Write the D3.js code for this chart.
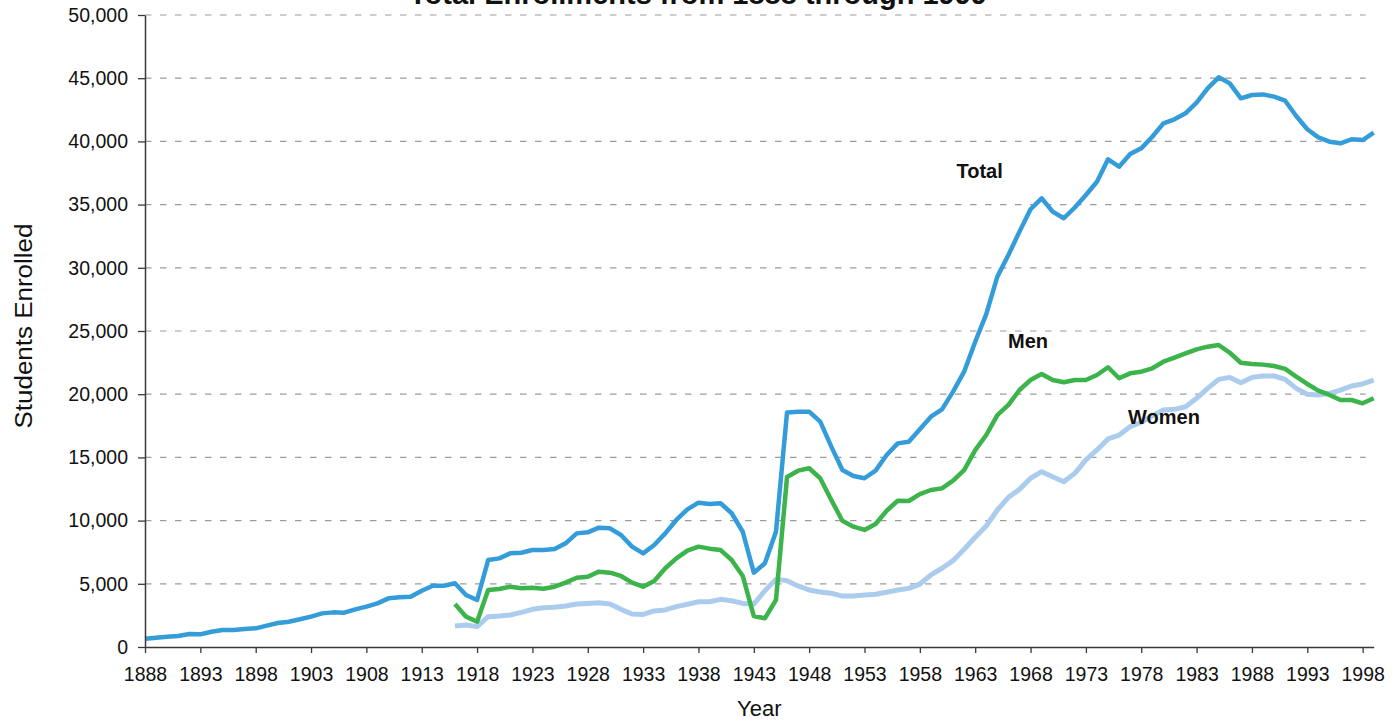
<!DOCTYPE html>
<html>
<head>
  <meta charset="utf-8" />
  <title>Total Enrollments from 1888 through 1999</title>
  <script src="https://cdn.jsdelivr.net/npm/d3@7"></script>
  <style>
    body { margin: 0; background: #fff; }
    svg text { font-family: "Liberation Sans", Arial, Helvetica, sans-serif; fill: #111; }
  </style>
</head>
<body>
  <svg id="chart" width="1400" height="723"></svg>

  <script>
    // years shown on the x axis and the y axis ticks
    const xTickYears = [1888, 1893, 1898, 1903, 1908, 1913, 1918, 1923, 1928, 1933, 1938,
      1943, 1948, 1953, 1958, 1963, 1968, 1973, 1978, 1983, 1988, 1993, 1998];
    const yTickValues = [0, 5000, 10000, 15000, 20000, 25000, 30000, 35000, 40000, 45000, 50000];

    // total enrollment, one value per year 1888..1999
    const totalStart = 1888;
    const totalValues = [
      660, 740, 815, 870, 1030, 1000, 1210, 1345, 1345, 1420,          // 1888-1897
      1475, 1690, 1900, 2000, 2190, 2400, 2660, 2740, 2715, 2980,      // 1898-1907
      3190, 3450, 3850, 3930, 3980, 4450, 4850, 4850, 5040, 4110,      // 1908-1917
      3720, 6880, 7010, 7410, 7460, 7670, 7670, 7750, 8200, 8990,      // 1918-1927
      9070, 9440, 9390, 8860, 7940, 7410, 8070, 8990, 10050, 10890,    // 1928-1937
      11420, 11310, 11370, 10580, 9120, 5880, 6620, 9120, 18550, 18620, // 1938-1947
      18620, 17830, 15850, 14000, 13530, 13350, 13950, 15190, 16110, 16240, // 1948-1957
      17220, 18220, 18800, 20200, 21780, 24150, 26340, 29300, 31010, 32860, // 1958-1967
      34630, 35500, 34440, 33920, 34770, 35760, 36810, 38580, 38000, 39000, // 1968-1977
      39450, 40370, 41430, 41750, 42220, 43060, 44200, 45070, 44590, 43410, // 1978-1987
      43670, 43720, 43540, 43220, 42010, 40960, 40320, 39980, 39850, 40170, // 1988-1997
      40110, 40690                                                      // 1998-1999
    ];

    // men and women, one value per year 1916..1999
    const genderStart = 1916;
    const menValues = [
      3400, 2400, 2000, 4510, 4590, 4770, 4640, 4690, 4610, 4770,      // 1916-1925
      5090, 5480, 5560, 5960, 5880, 5620, 5090, 4770, 5220, 6230,      // 1926-1935
      7010, 7620, 7940, 7780, 7670, 6880, 5620, 2450, 2270, 3720,      // 1936-1945
      13450, 13950, 14140, 13350, 11630, 9990, 9520, 9260, 9730, 10780, // 1946-1955
      11570, 11550, 12100, 12420, 12550, 13160, 14000, 15580, 16770, 18350, // 1956-1965
      19150, 20330, 21120, 21600, 21120, 20940, 21120, 21120, 21520, 22130, // 1966-1975
      21260, 21650, 21780, 22050, 22570, 22890, 23230, 23550, 23760, 23890, // 1976-1985
      23280, 22490, 22390, 22340, 22230, 22000, 21390, 20810, 20280, 19940, // 1986-1995
      19540, 19540, 19280, 19680                                        // 1996-1999
    ];
    const womenValues = [
      1660, 1740, 1610, 2400, 2450, 2530, 2740, 2980, 3110, 3140,      // 1916-1925
      3240, 3400, 3450, 3500, 3400, 2980, 2610, 2580, 2850, 2930,      // 1926-1935
      3190, 3380, 3580, 3580, 3770, 3660, 3450, 3400, 4450, 5350,      // 1936-1945
      5250, 4830, 4510, 4350, 4250, 4030, 4030, 4110, 4170, 4330,      // 1946-1955
      4510, 4640, 4980, 5700, 6230, 6830, 7730, 8680, 9570, 10840,     // 1956-1965
      11840, 12470, 13350, 13870, 13470, 13080, 13740, 14800, 15590, 16460, // 1966-1975
      16770, 17430, 17780, 18280, 18750, 18800, 19010, 19670, 20460, 21170, // 1976-1985
      21330, 20910, 21330, 21440, 21440, 21170, 20460, 19990, 19940, 20070, // 1986-1995
      20330, 20650, 20810, 21120                                        // 1996-1999
    ];

    const series = [
      { name: "Women", start: genderStart, values: womenValues, color: "#acccee", width: 5 },
      { name: "Men", start: genderStart, values: menValues, color: "#3cb44b", width: 4.5 },
      { name: "Total", start: totalStart, values: totalValues, color: "#359cda", width: 4.5 }
    ];

    const svg = d3.select("svg#chart");

    var margin = { top: 15, left: 145 },
      plotRight = 1373.7,
      plotBottom = 647;

    var x = d3.scaleLinear().domain([1888, 1999]).range([margin.left, plotRight]);
    var y = d3.scaleLinear().domain([0, 50000]).range([plotBottom, margin.top]);

    // dashed horizontal grid
    svg.append("g")
      .selectAll("line")
      .data(yTickValues.filter((d) => d > 0))
      .enter()
      .append("line")
      .attr("x1", margin.left)
      .attr("x2", x(1998) + 3)
      .attr("y1", (d) => y(d))
      .attr("y2", (d) => y(d))
      .attr("stroke", "#9c9c9c")
      .attr("stroke-width", 1.2)
      .attr("stroke-dasharray", "6.5,8.5");

    // lines
    const line = d3.line()
      .x((d) => x(d.year))
      .y((d) => y(d.value));

    series.forEach((s) => {
      const pts = s.values.map((v, i) => ({ year: s.start + i, value: v }));
      svg.append("path")
        .datum(pts)
        .attr("fill", "none")
        .attr("stroke", s.color)
        .attr("stroke-width", s.width)
        .attr("stroke-linejoin", "round")
        .attr("d", line);
    });

    // X axis
    const xAxis = svg.append("g")
      .attr("transform", "translate(0," + plotBottom + ")")
      .call(d3.axisBottom(x).tickValues(xTickYears).tickFormat(d3.format("d"))
        .tickSize(6).tickSizeOuter(0).tickPadding(14.5));
    // Y axis
    const yAxis = svg.append("g")
      .attr("transform", "translate(" + margin.left + ",0)")
      .call(d3.axisLeft(y).tickValues(yTickValues).tickFormat(d3.format(","))
        .tickSize(7).tickSizeOuter(0).tickPadding(10));

    [xAxis, yAxis].forEach((a) => {
      a.selectAll("path.domain").attr("stroke", "#3a3a3a").attr("stroke-width", 1.5);
      a.selectAll(".tick line").attr("stroke", "#3a3a3a").attr("stroke-width", 1.3);
      a.selectAll("text")
        .style("font-family", '"Liberation Sans", Arial, sans-serif')
        .style("font-size", "19.5px")
        .attr("fill", "#111");
    });

    // title (cut off at the top edge, as in the original)
    svg.append("text")
      .attr("x", 698)
      .attr("y", 4)
      .attr("text-anchor", "middle")
      .style("font-size", "29px")
      .style("font-weight", "bold")
      .text("Total Enrollments from 1888 through 1999");

    // axis titles
    svg.append("text")
      .attr("x", (margin.left + plotRight) / 2)
      .attr("y", 716)
      .attr("text-anchor", "middle")
      .style("font-size", "22px")
      .text("Year");

    svg.append("text")
      .attr("transform", "translate(32,326) rotate(-90)")
      .attr("text-anchor", "middle")
      .attr("textLength", 205)
      .attr("lengthAdjust", "spacingAndGlyphs")
      .style("font-size", "23px")
      .text("Students Enrolled");

    // series labels
    const labels = [
      { text: "Total", x: 956.5, y: 178 },
      { text: "Men", x: 1008, y: 348 },
      { text: "Women", x: 1128, y: 424 }
    ];
    svg.append("g")
      .selectAll("text")
      .data(labels)
      .enter()
      .append("text")
      .attr("x", (d) => d.x)
      .attr("y", (d) => d.y)
      .style("font-size", "20px")
      .style("font-weight", "bold")
      .text((d) => d.text);
  </script>
</body>
</html>
